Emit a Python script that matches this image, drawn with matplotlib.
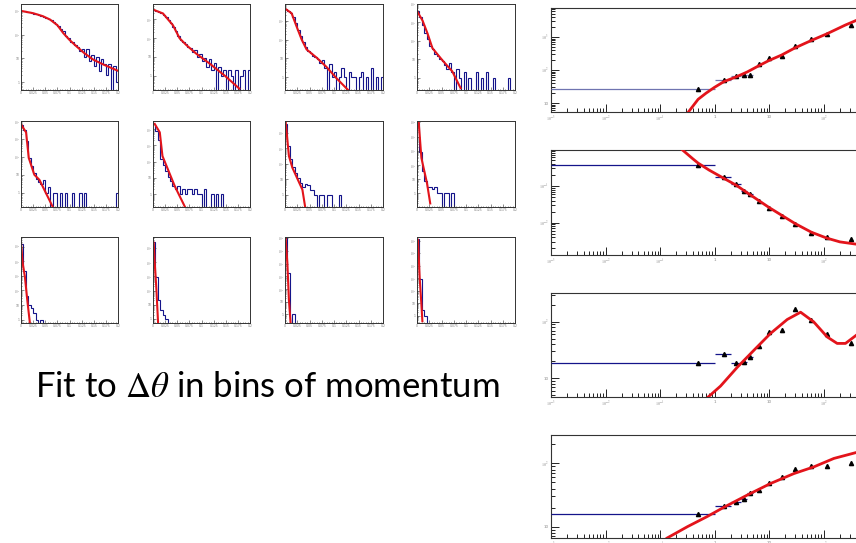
import numpy as np
import matplotlib.pyplot as plt
from matplotlib.ticker import LogLocator, FuncFormatter, NullFormatter, MultipleLocator, FixedLocator

plt.rcParams['mathtext.fontset'] = 'custom'
plt.rcParams['mathtext.rm'] = 'STIXGeneral'
plt.rcParams['mathtext.it'] = 'STIXGeneral:italic'

# ---- left: delta-theta histograms, 40 bins each, with fit curves ----
h1 = [1000, 960, 920, 870, 820, 770, 720, 660, 620, 560, 510, 470, 420, 350, 290, 230, 170, 140, 90, 75,
      50, 48, 36, 30, 20, 26, 12, 24, 8, 14, 5, 12, 3, 9, 6, 2, 6, 0, 5, 1]
h2 = [3000, 2700, 2350, 2100, 1750, 1230, 870, 610, 400, 230, 130, 80, 60, 48, 32, 28, 18, 24, 10, 15,
      6, 9, 3, 8, 2, 5, 0, 3, 1, 2, 0, 2, 1, 0, 2, 0, 1, 2, 0, 2]
h3 = [3900, 3300, 2600, 1500, 750, 330, 150, 75, 40, 26, 20, 14, 12, 9, 6, 8, 3, 0, 5, 1,
      2, 0, 1, 3, 1, 0, 2, 1, 1, 0, 1, 2, 0, 1, 0, 3, 0, 1, 0, 1]
h4 = [4000, 2000, 700, 280, 120, 50, 35, 20, 15, 10, 8, 5, 3, 6, 2, 0, 3, 1, 0, 2,
      0, 1, 0, 0, 2, 0, 1, 0, 2, 0, 0, 1, 0, 0, 0, 0, 0, 1, 0, 0]
h5 = [6000, 3000, 800, 90, 30, 12, 6, 4, 3, 5, 1, 2, 0, 1, 1, 0, 1, 0, 1, 0,
      0, 1, 0, 0, 1, 0, 1, 0, 0, 0, 0, 0, 0, 0, 0, 0, 0, 0, 0, 1]
h6 = [20000, 8000, 2000, 150, 60, 25, 12, 6, 3, 2, 3, 1, 2, 1, 2, 2, 1, 2, 1, 1,
      0, 2, 0, 0, 1, 0, 1, 0, 1, 0, 0, 0, 0, 0, 0, 0, 0, 0, 0, 0]
h7 = [40000, 1500, 200, 60, 25, 12, 6, 3, 5, 4, 2, 2, 1, 0, 1, 1, 0, 1, 1, 0,
      0, 0, 1, 0, 0, 0, 0, 0, 0, 0, 0, 0, 0, 0, 0, 0, 0, 0, 0, 0]
h8 = [90000, 800, 40, 8, 3, 3, 2, 3, 1, 1, 0, 1, 1, 0, 1, 0, 0, 0, 0, 0,
      0, 0, 0, 0, 0, 0, 0, 0, 0, 0, 0, 0, 0, 0, 0, 0, 0, 0, 0, 0]
h9 = [150000, 2000, 40, 10, 6, 3, 1, 0, 1, 0, 0, 0, 0, 0, 0, 0, 0, 0, 0, 0,
      0, 0, 0, 0, 0, 0, 0, 0, 0, 0, 0, 0, 0, 0, 0, 0, 0, 0, 0, 0]
h10 = [300000, 900, 20, 4, 2, 1, 0, 0, 0, 0, 0, 0, 0, 0, 0, 0, 0, 0, 0, 0,
       0, 0, 0, 0, 0, 0, 0, 0, 0, 0, 0, 0, 0, 0, 0, 0, 0, 0, 0, 0]
h11 = [1000000, 2000, 0, 1, 0, 0, 0, 0, 0, 0, 0, 0, 0, 0, 0, 0, 0, 0, 0, 0,
       0, 0, 0, 0, 0, 0, 0, 0, 0, 0, 0, 0, 0, 0, 0, 0, 0, 0, 0, 0]
h12 = [1500000, 800, 3, 1, 0, 0, 0, 0, 0, 0, 0, 0, 0, 0, 0, 0, 0, 0, 0, 0,
       0, 0, 0, 0, 0, 0, 0, 0, 0, 0, 0, 0, 0, 0, 0, 0, 0, 0, 0, 0]

fx1 = [0, 5, 9, 12, 15, 17.4, 20, 22.9, 26, 29.7, 34, 40]
fy1 = [1000, 800, 600, 430, 250, 117, 60, 32, 17, 9, 5.5, 3]
fx2 = [0, 4.1, 8.2, 11, 13.7, 17.8, 23.3, 30.1, 35.6]
fy2 = [3200, 2000, 480, 96, 43, 15, 4.5, 0.9, 0.21]
fx3 = [0.4, 2.7, 4.7, 6.8, 8.8, 12.9, 16.9, 21, 25.8]
fy3 = [4000, 2450, 500, 100, 30, 11, 3.6, 0.9, 0.21]
fx4 = [0, 2.3, 4.3, 6.3, 10.3, 14.4, 17.8]
fy4 = [4200, 1230, 250, 40, 9, 2.2, 0.27]
fx5 = [0, 2.1, 3.2, 5.5, 7.6, 13.1]
fy5 = [6600, 2300, 87, 10, 5.2, 0.16]
fx6 = [0.7, 2.8, 3.9, 9, 13.1]
fy6 = [21000, 6300, 220, 3, 0.17]
fx7 = [0.27, 1.6, 3.0, 7.1, 8.2]
fy7 = [49000, 316, 56, 2.1, 0.17]
fx8 = [0.7, 1.8, 4.1, 5.4]
fy8 = [100000, 316, 5.1, 0.2]
fx9 = [0, 0.7, 1.6, 2.6, 3.7]
fy9 = [174000, 7200, 870, 21, 0.52]
fx10 = [0.3, 0.7, 1.4, 2.1]
fy10 = [250000, 10000, 126, 0.5]
fx11 = [0.27, 0.95, 1.6, 2.3]
fy11 = [1000000, 12000, 14, 0.19]
fx12 = [0.4, 1.1, 1.8, 2.2]
fy12 = [1200000, 1000, 7.6, 0.35]

# log10 y range of each small panel
yr = [(-0.33, 3.29), (-0.75, 3.8), (-0.67, 3.88), (-0.67, 4.0),
      (-0.8, 4.0), (-0.8, 4.5), (-0.8, 4.77), (-0.95, 5.1),
      (-0.23, 5.65), (-0.3, 5.8), (-0.67, 6.1), (-0.6, 6.3)]

# ---- right: fit parameters vs momentum ----
p_mom = [0.5, 1.5, 2.5, 3.5, 4.5, 6.5, 10, 17, 30, 60, 115, 315]
pA = [26, 50, 65, 69, 69, 152, 226, 270, 545, 850, 1200, 2400]
pB = [0.37, 0.178, 0.11, 0.075, 0.059, 0.040, 0.025, 0.0155, 0.0095, 0.0052, 0.0042, 0.0036]
pC = [18.8, 26.9, 18.6, 19.1, 23.5, 38, 65, 73, 170, 107, 60, 41.5]
pD = [15.7, 21, 24.3, 27.7, 33.6, 37.5, 49.5, 60, 83, 91, 92, 102]

cxA = [0.33, 0.5, 0.7, 1, 1.5, 2.5, 4, 6.5, 10, 17, 30, 60, 115, 250, 400]
cyA = [5.3, 13, 20, 30, 45, 62, 88, 135, 195, 285, 470, 790, 1250, 2300, 3200]
cxB = [0.26, 0.4, 0.5, 0.8, 1.5, 2.5, 4, 6.5, 10, 17, 30, 60, 115, 200, 400]
cyB = [0.95, 0.55, 0.42, 0.27, 0.16, 0.105, 0.065, 0.040, 0.026, 0.016, 0.0095, 0.0055, 0.0038, 0.0030, 0.0026]
cxC = [0.77, 1.29, 2.6, 5.3, 10.6, 21.6, 38, 66, 117, 178, 253, 400]
cyC = [4.7, 7.3, 15.6, 31.5, 62, 110, 148, 100, 54, 41.5, 41.5, 58]
cxD = [0.135, 0.32, 0.73, 1.48, 4.0, 10.6, 28.5, 66, 155, 400]
cyD = [6.6, 10, 14.4, 20.2, 31.6, 48, 69, 88, 120, 149]
ylimR = [(0.73, 3.88), (-2.88, -0.02), (0.67, 2.51), (0.82, 2.45)]

hists = [h1, h2, h3, h4, h5, h6, h7, h8, h9, h10, h11, h12]
fits = [(fx1, fy1), (fx2, fy2), (fx3, fy3), (fx4, fy4), (fx5, fy5), (fx6, fy6),
        (fx7, fy7), (fx8, fy8), (fx9, fy9), (fx10, fy10), (fx11, fy11), (fx12, fy12)]

W, H = 856, 543
fig = plt.figure(figsize=(W / 100, H / 100), dpi=100)
fig.patch.set_facecolor('white')

NAVY = '#14148a'
RED = '#e3141b'


def box(x0, y0, x1, y1):
    return [x0 / W, 1 - y1 / H, (x1 - x0) / W, (y1 - y0) / H]


def root_fmt(v, pos):
    e = int(round(np.log10(v)))
    if e == 0:
        return '1'
    if e == 1:
        return '10'
    return r'$10^{%d}$' % e


cols = [(21, 118), (153, 250), (285, 383), (417, 515)]
rows = [(4, 90), (121, 207), (237, 323)]
edges = np.arange(41)

for k in range(12):
    r, c = divmod(k, 4)
    ax = fig.add_axes(box(cols[c][0], rows[r][0], cols[c][1], rows[r][1]))
    ax.stairs(hists[k], edges, color=NAVY, lw=0.8, baseline=None)
    ax.plot(fits[k][0], fits[k][1], color=RED, lw=1.5)
    ax.set_yscale('log')
    ax.set_xlim(0, 40)
    ax.set_ylim(10 ** yr[k][0], 10 ** yr[k][1])
    ax.yaxis.set_major_locator(LogLocator(base=10, numticks=20))
    ax.yaxis.set_major_formatter(FuncFormatter(root_fmt))
    ax.yaxis.set_minor_formatter(NullFormatter())
    ax.xaxis.set_major_locator(MultipleLocator(5))
    ax.xaxis.set_minor_locator(MultipleLocator(1))
    ax.xaxis.set_major_formatter(FuncFormatter(lambda v, p: '%.3g' % (v * 0.005)))
    ax.tick_params(which='both', direction='in', labelsize=2.2, width=0.4, pad=1, colors='#333333',
                   labelcolor='#777777')
    ax.tick_params(which='major', length=2.2)
    ax.tick_params(which='minor', length=1.0)
    for s in ax.spines.values():
        s.set_linewidth(0.7)
        s.set_color('#333333')

fig.text(35 / W, 1 - 387 / H, r'Fit to $\mathit{\Delta}\mathit{\theta}$ in bins of momentum',
         fontsize=25, family='Lato', va='center', ha='left')

right_rows = [(8, 112), (150, 255), (293, 397), (435, 538)]
pvals = [pA, pB, pC, pD]
curves = [(cxA, cyA), (cxB, cyB), (cxC, cyC), (cxD, cyD)]
bar_cols = ['#6f74b0', NAVY, NAVY, NAVY]
xlo = [0.5 - 0.001, 0.5, 0.5, 0.5, 0.5] + [0] * 7
xhi = [0.5, 0.5, 0.5, 0.5, 0.5] + [0] * 7
decades = [1e-3, 1e-2, 1e-1, 1, 10, 100]
minors = [m * d for d in decades for m in range(2, 10)]

for k in range(4):
    ax = fig.add_axes(box(551, right_rows[k][0], 878, right_rows[k][1]))
    ax.set_xscale('log')
    ax.set_yscale('log')
    ax.set_xlim(1e-3, 1e3)
    ax.set_ylim(10 ** ylimR[k][0], 10 ** ylimR[k][1])
    ax.errorbar(p_mom, pvals[k], xerr=[xlo, xhi], fmt='^', ms=3.0, color='black',
                ecolor=bar_cols[k], elinewidth=0.9, capsize=0, zorder=3)
    ax.plot(curves[k][0], curves[k][1], color=RED, lw=2.0, zorder=4)
    ax.xaxis.set_major_locator(FixedLocator(decades))
    ax.xaxis.set_minor_locator(FixedLocator(minors))
    ax.yaxis.set_major_locator(LogLocator(base=10, numticks=20))
    ax.yaxis.set_minor_locator(LogLocator(base=10, subs=np.arange(2, 10), numticks=20))
    ax.xaxis.set_major_formatter(FuncFormatter(root_fmt))
    ax.yaxis.set_major_formatter(FuncFormatter(root_fmt))
    ax.xaxis.set_minor_formatter(NullFormatter())
    ax.yaxis.set_minor_formatter(NullFormatter())
    ax.tick_params(which='both', direction='in', labelsize=3, width=0.7, pad=2, colors='#222222',
                   labelcolor='#888888')
    ax.tick_params(which='major', length=6)
    ax.tick_params(which='minor', length=3)
    for s in ax.spines.values():
        s.set_linewidth(0.8)
        s.set_color('#333333')

fig.savefig('out.png', dpi=100)
